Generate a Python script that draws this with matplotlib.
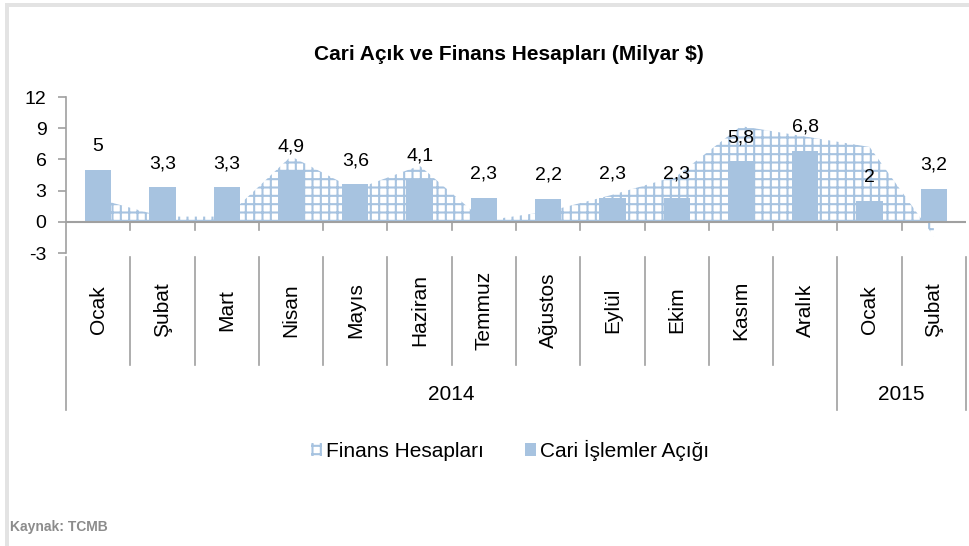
import matplotlib
matplotlib.use("Agg")
import matplotlib.pyplot as plt
from matplotlib.patches import Patch, Rectangle
import numpy as np

# data
months = ["Ocak", "Şubat", "Mart", "Nisan", "Mayıs", "Haziran", "Temmuz",
          "Ağustos", "Eylül", "Ekim", "Kasım", "Aralık", "Ocak", "Şubat"]
years = ["2014", "2015"]
year_spans = [(0, 12), (12, 14)]
cari_acik = [5, 3.3, 3.3, 4.9, 3.6, 4.1, 2.3, 2.2, 2.3, 2.3, 5.8, 6.8, 2, 3.2]
finans = [2.2, 0.5, 0.5, 6.3, 3.1, 5.4, 0.1, 1.0, 2.6, 4.4, 9.2, 8.2, 7.2, -1.4]

BLUE = "#A7C3E0"
AXIS = "#A0A0A0"
BODY = ["Liberation Sans", "DejaVu Sans"]
NARROW = ["Liberation Sans Narrow", "Liberation Sans", "DejaVu Sans"]

plt.rcParams["font.family"] = BODY
plt.rcParams["hatch.linewidth"] = 1.5
plt.rcParams["axes.unicode_minus"] = False

W, H = 969, 546
fig = plt.figure(figsize=(W / 100, H / 100), dpi=100)

# plot area in pixels: x 66..966, y 97..253
left, right, top, bottom = 66, 966, 97, 253
ax = fig.add_axes([left / W, 1 - bottom / H, (right - left) / W, (bottom - top) / H])

x = np.arange(len(months))
ax.fill_between(x, finans, 0, facecolor="white", edgecolor=BLUE, hatch="++",
                linewidth=0, zorder=1)
ax.bar(x, cari_acik, width=0.41, color=BLUE, zorder=2)

for xi, v in zip(x, cari_acik):
    ax.annotate(f"{v:g}".replace(".", ","), (xi, v), xytext=(0, 17),
                textcoords="offset points", ha="center", va="center", fontsize=14)

ax.set_xlim(-0.5, len(months) - 0.5)
ax.set_ylim(-3, 12)
ax.set_yticks(range(-3, 13, 3))
ax.tick_params(axis="y", labelsize=14, color=AXIS, length=6, width=1.2, pad=8)
ax.set_xticks([])
for s in ["top", "right", "bottom"]:
    ax.spines[s].set_visible(False)
ax.spines["left"].set_color(AXIS)
ax.spines["left"].set_linewidth(1.2)

# zero line with tick marks at category boundaries
ax.axhline(0, color=AXIS, linewidth=1.5, zorder=3)
trans = ax.get_xaxis_transform()
px = 1 / (bottom - top)  # axes fraction per pixel
zero_frac = 3 / 15
for b in range(1, len(months)):
    ax.plot([b - 0.5, b - 0.5], [zero_frac, zero_frac - 8 * px], color=AXIS,
            linewidth=1.2, transform=trans, clip_on=False)

# multi-level category labels
sep_top = -4 * px
month_bottom = -(365 - bottom) * px
year_bottom = -(410 - bottom) * px
year_edges = [0, 12, 14]
for b in range(len(months) + 1):
    y_end = year_bottom if b in year_edges else month_bottom
    ax.plot([b - 0.5, b - 0.5], [sep_top, y_end], color=AXIS, linewidth=1.2,
            transform=trans, clip_on=False)

for xi, m in zip(x, months):
    ax.text(xi, -(310 - bottom) * px, m, rotation=90, ha="center", va="center",
            fontsize=15, transform=trans)

for yr, (a, b) in zip(years, year_spans):
    ax.text((a + b - 1) / 2, -(395 - bottom) * px, yr, ha="center", va="center",
            fontsize=15, transform=trans)

fig.text(509 / W, 1 - 55 / H, "Cari Açık ve Finans Hesapları (Milyar $)",
         ha="center", va="center", fontsize=15, fontweight="bold", family=NARROW)

handles = [Patch(facecolor="white", edgecolor=BLUE, hatch="++", linewidth=0),
           Patch(facecolor=BLUE)]
fig.legend(handles, ["Finans Hesapları", "Cari İşlemler Açığı"], loc="center",
           bbox_to_anchor=(510 / W, 1 - 450 / H), ncol=2, frameon=False,
           fontsize=15, handlelength=0.5, handleheight=0.6, handletextpad=0.2,
           columnspacing=2.0)

fig.text(10 / W, 1 - 527 / H, "Kaynak: TCMB", ha="left", va="center",
         fontsize=10, fontweight="bold", color="#8C8C8C", family=NARROW)

# light frame on the left and top
fig.add_artist(Rectangle((5 / W, 0), 4 / W, 1 - 3 / H, transform=fig.transFigure,
                         color="#E3E3E3", linewidth=0))
fig.add_artist(Rectangle((5 / W, 1 - 7 / H), 1, 4 / H, transform=fig.transFigure,
                         color="#E3E3E3", linewidth=0))

fig.savefig("out.png", dpi=100)
